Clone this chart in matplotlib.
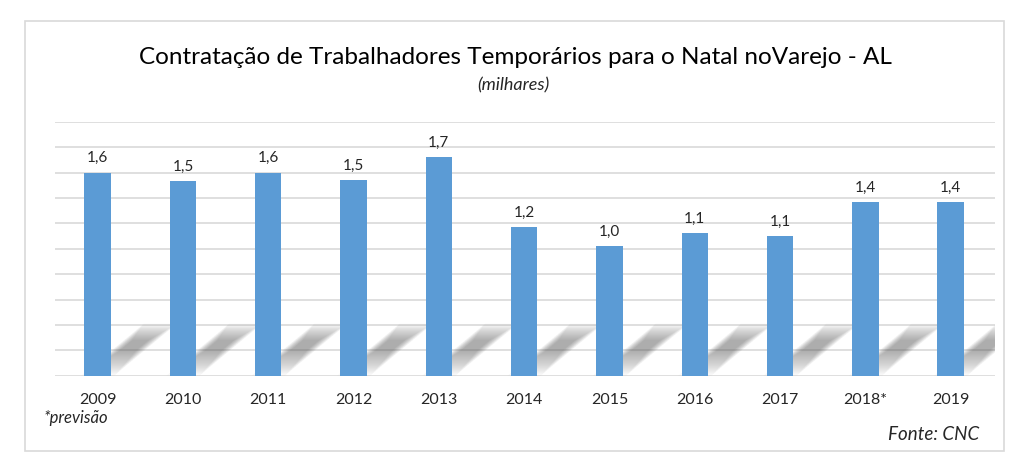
from matplotlib import pyplot as plt
from matplotlib.patches import Polygon, Rectangle
import numpy as np

# chart data (thousands of temporary hires, AL)
years = ['2009', '2010', '2011', '2012', '2013', '2014', '2015', '2016', '2017', '2018*', '2019']
hires = [1.60, 1.53, 1.60, 1.54, 1.72, 1.17, 1.02, 1.12, 1.10, 1.37, 1.37]

title = 'Contratação de Trabalhadores Temporários para o Natal noVarejo - AL'
subtitle = '(milhares)'
note = '*previsão'
source = 'Fonte: CNC'

plt.rcParams['font.family'] = ['Lato', 'DejaVu Sans']

bar_color = '#5B9BD5'
grid_color = '#d9d9d9'
text_color = '#262626'
bar_w = 0.31

fig = plt.figure(figsize=(10.24, 4.64), dpi=100)
fig.patch.set_facecolor('white')

# light frame around the chart
fig.patches.append(Rectangle((25 / 1024, 1 - 452 / 464), 979 / 1024, 430 / 464,
                             transform=fig.transFigure, fill=False,
                             edgecolor=grid_color, linewidth=1.2))

ax = fig.add_axes([55 / 1024, 1 - 376.7 / 464, 940 / 1024, 254 / 464])
x = np.arange(len(years))

# soft perspective shadows behind the bars (nested, low-alpha layers = blur)
dx, dy = 0.70, 0.39
n_layers = 24
for xi in x:
    x0, x1 = xi - bar_w / 2, xi + bar_w / 2
    for k in range(n_layers):
        f = k / (n_layers - 1)
        ta = 0.5 * f
        tb = 0.72 + 0.33 * (1 - f)
        grow = 0.10 * (1 - f) - 0.06
        poly = Polygon([(x0 - grow + dx * ta, dy * ta), (x1 + grow + dx * ta, dy * ta),
                        (x1 + grow + dx * tb, dy * tb), (x0 - grow + dx * tb, dy * tb)],
                       closed=True, facecolor='#5a5a5a', edgecolor='none',
                       alpha=0.024, zorder=1)
        ax.add_patch(poly)

bars = ax.bar(x, hires, width=bar_w, color=bar_color, zorder=3)
for xi, v in zip(x, hires):
    ax.text(xi, v + 0.065, f'{v:.1f}'.replace('.', ','), ha='center', va='bottom',
            fontsize=11, color=text_color, zorder=4)

ax.set_ylim(0, 2.0)
ax.set_xlim(-0.5, len(years) - 0.48)
ax.set_yticks(np.arange(0, 2.01, 0.2))
ax.yaxis.grid(True, color=grid_color, linewidth=1.2, zorder=0)
ax.set_axisbelow(True)
ax.tick_params(axis='y', left=False, labelleft=False)
ax.tick_params(axis='x', length=0, pad=12, labelsize=11.5, labelcolor=text_color)
ax.set_xticks(x)
ax.set_xticklabels(years)
for s in ax.spines.values():
    s.set_visible(False)

fig.text(515 / 1024, 1 - 57 / 464, title, ha='center', va='center', fontsize=17.5, color='black')
fig.text(513 / 1024, 1 - 85 / 464, subtitle, ha='center', va='center', fontsize=13,
         style='italic', color=text_color)
fig.text(44 / 1024, 1 - 418 / 464, note, ha='left', va='center', fontsize=12,
         style='italic', color=text_color)
fig.text(979 / 1024, 1 - 435 / 464, source, ha='right', va='center', fontsize=13.5,
         style='italic', color=text_color)

fig.savefig('out.png', dpi=100)
